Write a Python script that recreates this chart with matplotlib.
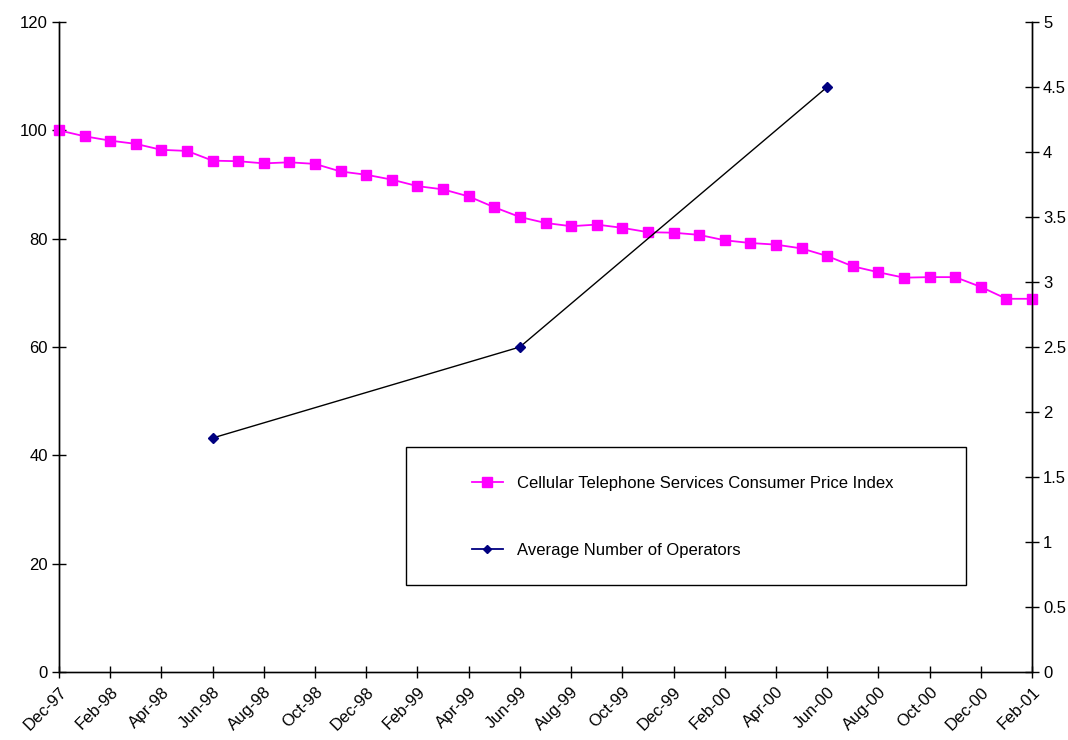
import matplotlib
matplotlib.use("Agg")
import matplotlib.pyplot as plt
from matplotlib.lines import Line2D
from matplotlib.patches import Rectangle
from matplotlib.ticker import FuncFormatter

plt.rcParams['font.family'] = ['Liberation Sans', 'DejaVu Sans']

months = ["Dec-97", "Jan-98", "Feb-98", "Mar-98", "Apr-98", "May-98", "Jun-98", "Jul-98",
          "Aug-98", "Sep-98", "Oct-98", "Nov-98", "Dec-98", "Jan-99", "Feb-99", "Mar-99",
          "Apr-99", "May-99", "Jun-99", "Jul-99", "Aug-99", "Sep-99", "Oct-99", "Nov-99",
          "Dec-99", "Jan-00", "Feb-00", "Mar-00", "Apr-00", "May-00", "Jun-00", "Jul-00",
          "Aug-00", "Sep-00", "Oct-00", "Nov-00", "Dec-00", "Jan-01", "Feb-01"]

cpi = [100.0, 98.9, 98.1, 97.5, 96.4, 96.2, 94.4, 94.3, 93.9, 94.1, 93.8, 92.4, 91.8,
       90.9, 89.7, 89.1, 87.8, 85.8, 84.0, 82.9, 82.3, 82.6, 82.0, 81.2, 81.1, 80.7,
       79.7, 79.2, 78.9, 78.2, 76.8, 74.9, 73.8, 72.8, 72.9, 72.9, 71.1, 68.9, 68.9]

op_months = ["Jun-98", "Jun-99", "Jun-00"]
operators = [1.8, 2.5, 4.5]

tick_labels = ["Dec-97", "Feb-98", "Apr-98", "Jun-98", "Aug-98", "Oct-98", "Dec-98",
               "Feb-99", "Apr-99", "Jun-99", "Aug-99", "Oct-99", "Dec-99", "Feb-00",
               "Apr-00", "Jun-00", "Aug-00", "Oct-00", "Dec-00", "Feb-01"]

label1 = "Cellular Telephone Services Consumer Price Index"
label2 = "Average Number of Operators"

PINK = "#FF00FF"
NAVY = "#000080"
FS = 12

fig = plt.figure(figsize=(10.68, 7.40), dpi=100)
ax = fig.add_axes([59/1068, 1-672/740, (1032-59)/1068, (672-22)/740])
ax2 = ax.twinx()

x_cpi = [months.index(m) for m in months]
x_op = [months.index(m) for m in op_months]

ax.plot(x_cpi, cpi, color=PINK, lw=1.3, marker='s', markersize=7.5, markeredgecolor=PINK,
        clip_on=False, zorder=3)
ax2.plot(x_op, operators, color='black', lw=1.0, marker='D', markersize=5,
         markerfacecolor=NAVY, markeredgecolor=NAVY, clip_on=False, zorder=3)

ax.set_xlim(0, len(months) - 1)
ax.set_ylim(0, 120)
ax2.set_ylim(0, 5)
ax.set_yticks(range(0, 121, 20))
ax2.set_yticks([i * 0.5 for i in range(11)])
ax2.yaxis.set_major_formatter(FuncFormatter(lambda v, p: f"{v:g}"))

ax.set_xticks([months.index(t) for t in tick_labels])
ax.set_xticklabels(tick_labels, rotation=45, ha='right', rotation_mode='anchor', fontsize=FS)

for a in (ax, ax2):
    a.spines['top'].set_visible(False)
    for s in a.spines.values():
        s.set_linewidth(1.0)
        s.set_color('black')
ax.spines['bottom'].set_color('#404040')
ax.tick_params(axis='x', direction='inout', length=8, width=1, pad=5, colors='black')
ax.tick_params(axis='y', direction='inout', length=10, width=1, labelsize=FS, pad=3)
ax2.tick_params(axis='y', direction='inout', length=10, width=1, labelsize=FS, pad=3)

# legend box
x0 = (406 - 59) / 973
x1 = (966 - 59) / 973
y0 = (672 - 585) / 650
y1 = (672 - 447) / 650
ax2.add_patch(Rectangle((x0, y0), x1 - x0, y1 - y0, transform=ax2.transAxes,
                        facecolor='white', edgecolor='black', lw=1.0, zorder=5))
handles = [Line2D([], [], color=PINK, lw=1.3, marker='s', markersize=7),
           Line2D([], [], color=NAVY, lw=1.3, marker='D', markersize=4.5)]
leg = ax2.legend(handles, [label1, label2], loc='upper left',
                 bbox_to_anchor=((472 - 59) / 973, (672 - 476) / 650),
                 frameon=False, fontsize=FS, handlelength=1.85, handletextpad=0.85,
                 labelspacing=3.1, borderpad=0, borderaxespad=0)
leg.set_zorder(6)

fig.savefig("out.png", dpi=100)
